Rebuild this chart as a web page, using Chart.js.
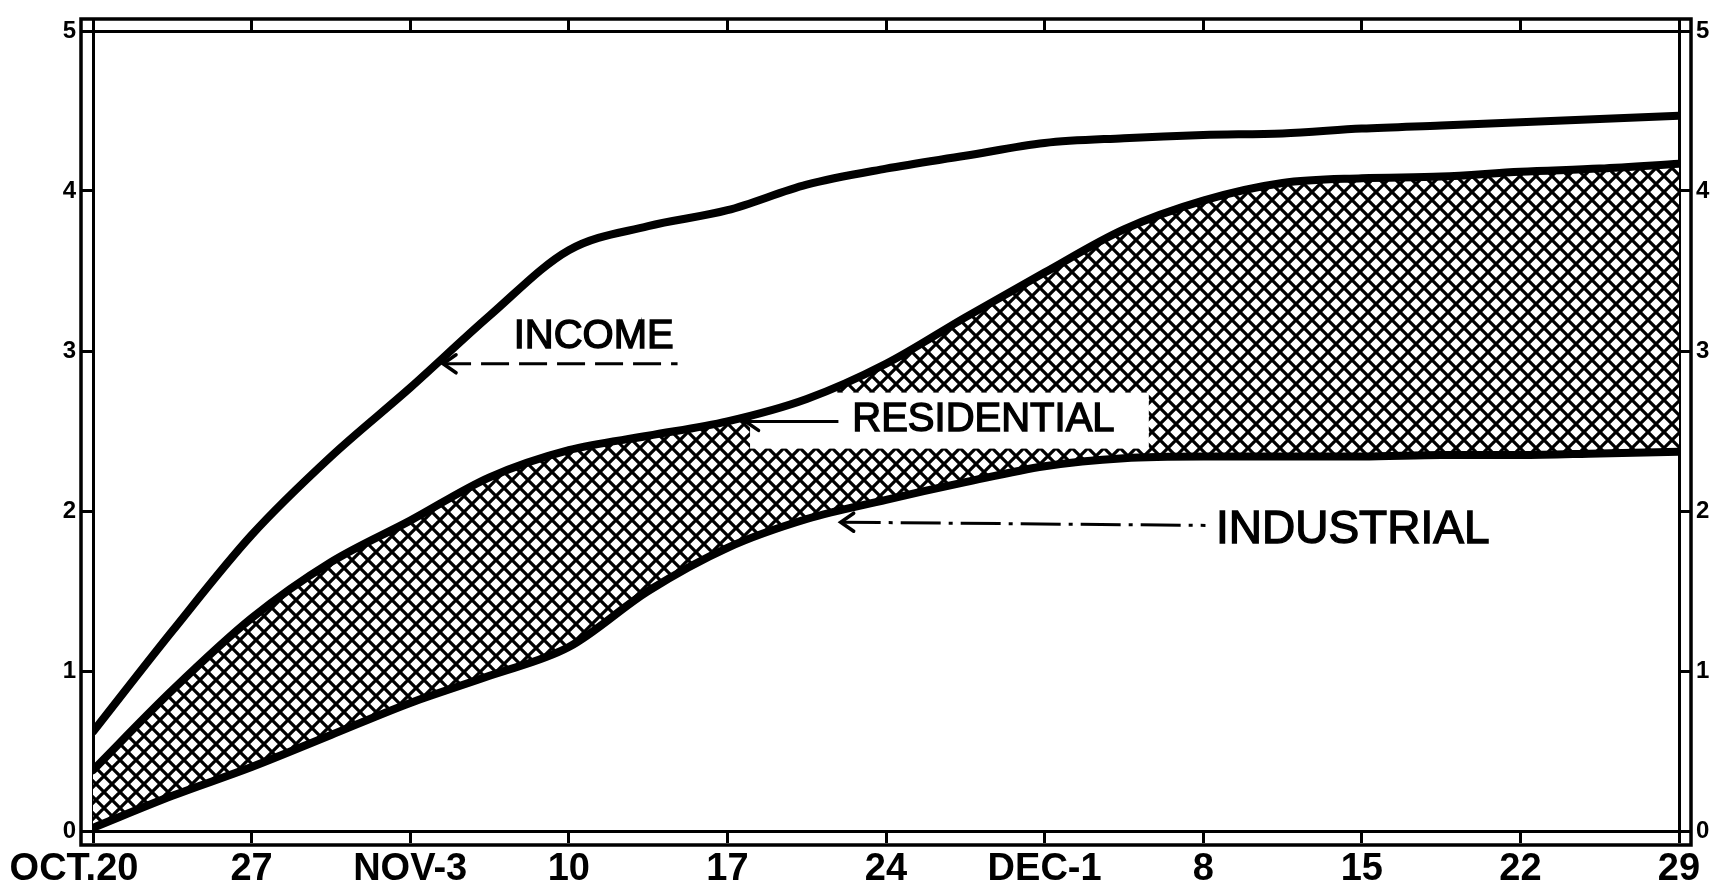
<!DOCTYPE html>
<html><head><meta charset="utf-8">
<script src="https://cdn.jsdelivr.net/npm/chart.js@4.4.1/dist/chart.umd.min.js"></script>
<style>html,body{margin:0;padding:0;background:#fff;overflow:hidden}</style>
</head><body>
<canvas id="c" width="1721" height="893"></canvas>
<script>
// ---- data (days after Oct. 20) ----
const days = [0,3.5,7,10.5,14,17.5,21,24.5,28,31.5,35,38.5,42,45.5,49,52.5,56,59.5,63,66.5,70];
const income      = [0.62,1.25,1.85,2.34,2.77,3.22,3.63,3.78,3.88,4.04,4.14,4.22,4.30,4.33,4.35,4.36,4.39,4.41,4.43,4.45,4.47];
const residential = [0.38,0.88,1.33,1.68,1.94,2.21,2.38,2.47,2.56,2.70,2.92,3.21,3.49,3.76,3.94,4.05,4.08,4.09,4.12,4.14,4.17];
const industrial  = [0.02,0.22,0.40,0.60,0.80,0.97,1.15,1.50,1.77,1.95,2.07,2.18,2.28,2.33,2.34,2.34,2.34,2.35,2.35,2.36,2.37];
const dateTickDays = [0,7,14,21,28,35,42,49,56,63,70];
const dateLabels = ['OCT.20','27','NOV-3','10','17','24','DEC-1','8','15','22','29'];
const valueTicks = [0,1,2,3,4,5];
const seriesNames = ['INCOME','RESIDENTIAL','INDUSTRIAL'];

const canvas = document.getElementById('c');
const ctx = canvas.getContext('2d');

function hatchPattern(){
  const s = 16, c = document.createElement('canvas');
  c.width = s; c.height = s;
  const g = c.getContext('2d');
  g.fillStyle = '#fff'; g.fillRect(0,0,s,s);
  g.strokeStyle = '#000'; g.lineWidth = 3.2;
  g.beginPath();
  for (const o of [-s,0,s]) {
    g.moveTo(o,0); g.lineTo(o+s,s);
    g.moveTo(o,s); g.lineTo(o+s,0);
  }
  g.stroke();
  return ctx.createPattern(c,'repeat');
}

const pts = arr => days.map((d,i)=>({x:d,y:arr[i]}));
const lineStyle = {borderColor:'#000', borderWidth:8, pointRadius:0, cubicInterpolationMode:'monotone', borderCapStyle:'round', borderJoinStyle:'round'};

const gridOpts = {drawOnChartArea:false, drawTicks:true, tickLength:12, lineWidth:3, color:'#000'};
const borderOpts = {display:true, width:3, color:'#000'};
const setDateTicks = s => { s.ticks = dateTickDays.map(v=>({value:v})); };
const setValTicks = s => { s.ticks = valueTicks.map(v=>({value:v})); };
const valFont = {family:'"Liberation Sans", Arial, sans-serif', size:24, weight:'bold'};

// annotation positions in data units (day, value)
const notes = {
  income:      {text:[22.1,3.09], tip:[15.45,2.92], end:[25.8,2.92], dash:[28,10], size:40},
  residential: {text:[39.3,2.57], tip:[28.8,2.56], end:[32.9,2.56], dash:[], size:40, box:[29.0,46.6,2.74,2.39]},
  industrial:  {text:[55.6,1.88], tip:[33.0,1.93], end:[49.1,1.91], dash:[40,8,4,8], size:46}
};

const framePlugin = {
  id:'frame',
  afterDraw(chart){
    const a = chart.chartArea, c = chart.ctx;
    c.save();
    c.strokeStyle = '#000'; c.lineWidth = 3.5;
    c.strokeRect(a.left-12, a.top-12, a.right-a.left+24, a.bottom-a.top+26);
    c.restore();
  }
};

const notePlugin = {
  id:'notes',
  beforeDatasetsDraw(chart){
    // white label box cut out of the hatching (drawn after the fill, before the lines)
    const c = chart.ctx, X = chart.scales.x, Y = chart.scales.y;
    const b = notes.residential.box;
    const x1 = X.getPixelForValue(b[0]), x2 = X.getPixelForValue(b[1]);
    const y1 = Y.getPixelForValue(b[2]), y2 = Y.getPixelForValue(b[3]);
    c.save(); c.fillStyle = '#fff'; c.fillRect(x1, y1, x2-x1, y2-y1); c.restore();
  },
  afterDatasetsDraw(chart){
    const c = chart.ctx, X = chart.scales.x, Y = chart.scales.y;
    const px = p => [X.getPixelForValue(p[0]), Y.getPixelForValue(p[1])];
    c.save();
    seriesNames.forEach(name => {
      const n = notes[name.toLowerCase()];
      const [tx,ty] = px(n.tip), [ex,ey] = px(n.end);
      c.strokeStyle = '#000'; c.lineWidth = 3; c.lineCap = 'butt';
      c.setLineDash(n.dash);
      c.beginPath(); c.moveTo(tx,ty); c.lineTo(ex,ey); c.stroke();
      c.setLineDash([]);
      c.lineWidth = 3.5; c.lineCap = 'round';
      c.beginPath();
      c.moveTo(tx+13, ty-9); c.lineTo(tx, ty); c.lineTo(tx+13, ty+9);
      c.stroke();
      const [lx,ly] = px(n.text);
      c.font = n.size + 'px "Liberation Sans", Arial, sans-serif';
      c.textAlign = 'center'; c.textBaseline = 'middle';
      c.fillStyle = '#000'; c.lineWidth = 1.4;
      c.fillText(name, lx, ly); c.strokeText(name, lx, ly);
    });
    c.restore();
  }
};

new Chart(ctx, {
  type:'line',
  data:{
    datasets:[
      Object.assign({label:seriesNames[0], data:pts(income), fill:false}, lineStyle),
      Object.assign({label:seriesNames[1], data:pts(residential), fill:{target:2}, backgroundColor:hatchPattern()}, lineStyle),
      Object.assign({label:seriesNames[2], data:pts(industrial), fill:false}, lineStyle)
    ]
  },
  options:{
    responsive:false, animation:false, devicePixelRatio:1,
    layout:{padding:0},
    plugins:{legend:{display:false}, tooltip:{enabled:false}, filler:{drawTime:'beforeDatasetsDraw'}},
    scales:{
      x:{type:'linear', position:'bottom', min:0, max:70,
         afterBuildTicks:setDateTicks,
         ticks:{autoSkip:false, maxRotation:0, padding:4, color:'#000',
                font:{family:'"Liberation Sans", Arial, sans-serif', size:38, weight:'bold'},
                callback:(v,i)=> i===0 ? dateLabels[i] + '\u2003' : dateLabels[i]},
         grid:gridOpts, border:borderOpts,
         afterFit:s=>{s.height=62; s.paddingLeft=0; s.paddingRight=0;}},
      x2:{type:'linear', position:'top', min:0, max:70,
         afterBuildTicks:setDateTicks,
         ticks:{display:false}, grid:gridOpts, border:borderOpts,
         afterFit:s=>{s.height=31; s.paddingLeft=0; s.paddingRight=0;}},
      y:{type:'linear', position:'left', min:0, max:5,
         afterBuildTicks:setValTicks,
         ticks:{color:'#000', font:valFont, padding:5},
         grid:gridOpts, border:borderOpts,
         afterFit:s=>{s.width=93; s.paddingTop=0; s.paddingBottom=0;}},
      y2:{type:'linear', position:'right', min:0, max:5,
         afterBuildTicks:setValTicks,
         ticks:{color:'#000', font:valFont, padding:5},
         grid:gridOpts, border:borderOpts,
         afterFit:s=>{s.width=42; s.paddingTop=0; s.paddingBottom=0;}}
    }
  },
  plugins:[framePlugin, notePlugin]
});
</script>
</body></html>
